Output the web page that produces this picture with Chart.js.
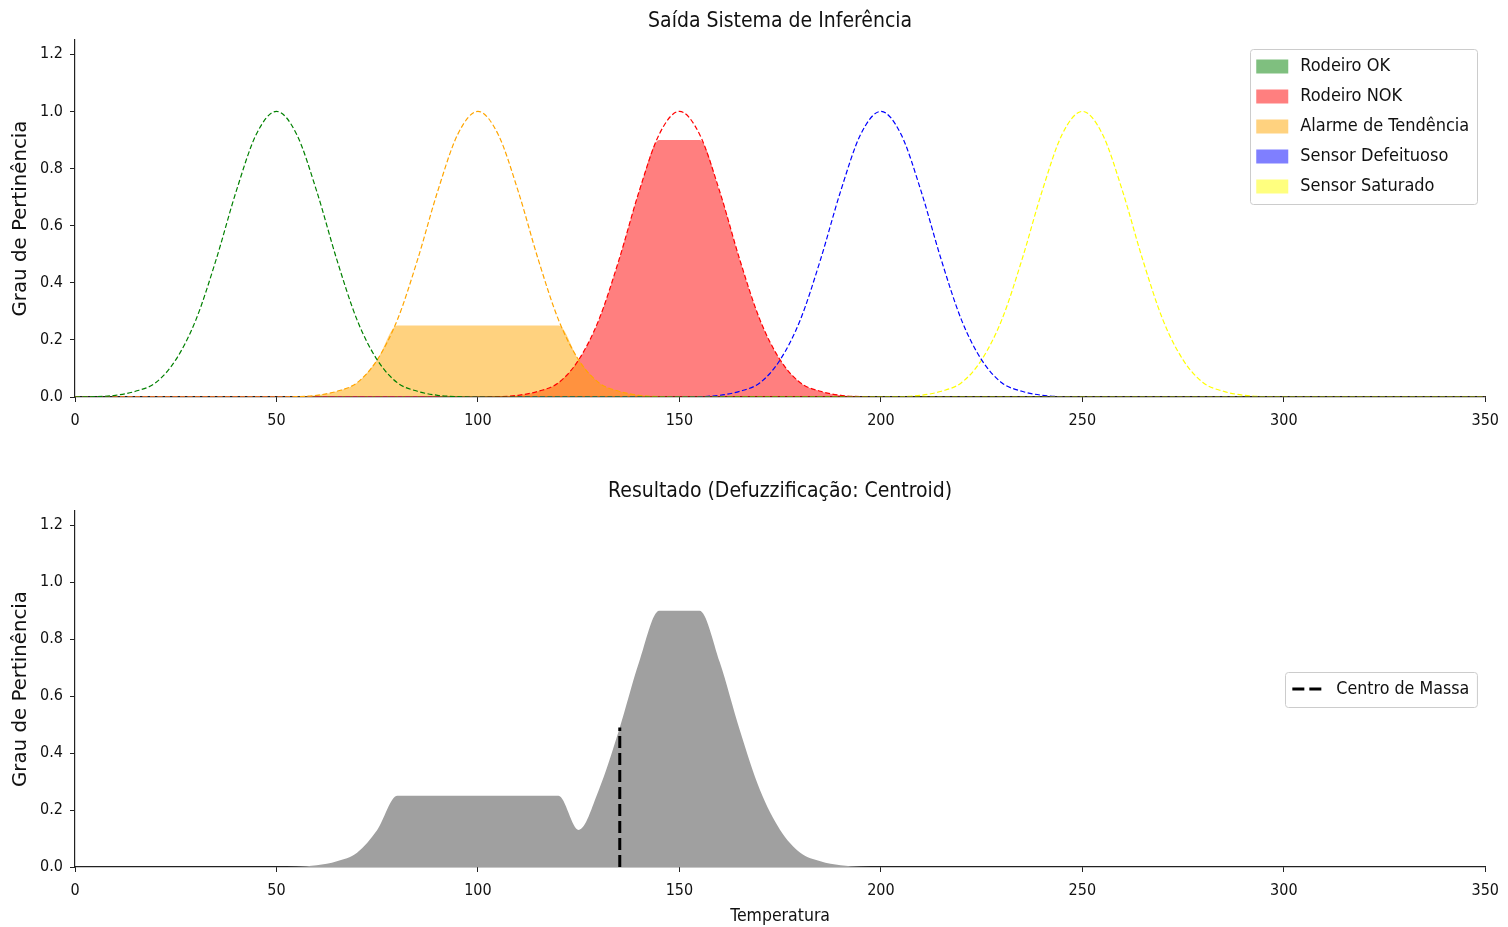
<!DOCTYPE html>
<html>
<head>
<meta charset="utf-8">
<script src="https://cdn.jsdelivr.net/npm/chart.js@4.4.0/dist/chart.umd.min.js"></script>
<style>
  html, body { margin: 0; padding: 0; background: #fff; }
  #wrap { position: relative; width: 1508px; height: 927px; }
  canvas { position: absolute; left: 0; }
  #topChart { top: 0; }
  #bottomChart { top: 460px; }
</style>
</head>
<body>
<div id="wrap">
  <canvas id="topChart" width="1508" height="450"></canvas>
  <canvas id="bottomChart" width="1508" height="467"></canvas>
</div>
<script>
// sample points along the temperature axis
const temperatura = [
  0, 5, 10, 15, 20, 25, 30, 35, 40, 45,
  50, 55, 60, 65, 70, 75, 80, 85, 90, 95,
  100, 105, 110, 115, 120, 125, 130, 135, 140, 145,
  150, 155, 160, 165, 170, 175, 180, 185, 190, 195,
  200, 205, 210, 215, 220, 225, 230, 235, 240, 245,
  250, 255, 260, 265, 270, 275, 280, 285, 290, 295,
  300, 305, 310, 315, 320, 325, 330, 335, 340, 345,
  350
];
const xTicks = [0, 50, 100, 150, 200, 250, 300, 350];
const yTicks = [0, 0.2, 0.4, 0.6, 0.8, 1.0, 1.2];

// membership functions (dashed curves)
const mfOk = [
  0, 0.001, 0.006, 0.02, 0.05, 0.13, 0.27, 0.48, 0.72, 0.92,
  1, 0.92, 0.72, 0.48, 0.27, 0.13, 0.05, 0.02, 0.006, 0.001,
  0, 0, 0, 0, 0, 0, 0, 0, 0, 0,
  0, 0, 0, 0, 0, 0, 0, 0, 0, 0,
  0, 0, 0, 0, 0, 0, 0, 0, 0, 0,
  0, 0, 0, 0, 0, 0, 0, 0, 0, 0,
  0, 0, 0, 0, 0, 0, 0, 0, 0, 0,
  0
];
const mfAlarme = [
  0, 0, 0, 0, 0, 0, 0, 0, 0, 0,
  0, 0.001, 0.006, 0.02, 0.05, 0.13, 0.27, 0.48, 0.72, 0.92,
  1, 0.92, 0.72, 0.48, 0.27, 0.13, 0.05, 0.02, 0.006, 0.001,
  0, 0, 0, 0, 0, 0, 0, 0, 0, 0,
  0, 0, 0, 0, 0, 0, 0, 0, 0, 0,
  0, 0, 0, 0, 0, 0, 0, 0, 0, 0,
  0, 0, 0, 0, 0, 0, 0, 0, 0, 0,
  0
];
const mfNok = [
  0, 0, 0, 0, 0, 0, 0, 0, 0, 0,
  0, 0, 0, 0, 0, 0, 0, 0, 0, 0,
  0, 0.001, 0.006, 0.02, 0.05, 0.13, 0.27, 0.48, 0.72, 0.92,
  1, 0.92, 0.72, 0.48, 0.27, 0.13, 0.05, 0.02, 0.006, 0.001,
  0, 0, 0, 0, 0, 0, 0, 0, 0, 0,
  0, 0, 0, 0, 0, 0, 0, 0, 0, 0,
  0, 0, 0, 0, 0, 0, 0, 0, 0, 0,
  0
];
const mfDefeituoso = [
  0, 0, 0, 0, 0, 0, 0, 0, 0, 0,
  0, 0, 0, 0, 0, 0, 0, 0, 0, 0,
  0, 0, 0, 0, 0, 0, 0, 0, 0, 0,
  0, 0.001, 0.006, 0.02, 0.05, 0.13, 0.27, 0.48, 0.72, 0.92,
  1, 0.92, 0.72, 0.48, 0.27, 0.13, 0.05, 0.02, 0.006, 0.001,
  0, 0, 0, 0, 0, 0, 0, 0, 0, 0,
  0, 0, 0, 0, 0, 0, 0, 0, 0, 0,
  0
];
const mfSaturado = [
  0, 0, 0, 0, 0, 0, 0, 0, 0, 0,
  0, 0, 0, 0, 0, 0, 0, 0, 0, 0,
  0, 0, 0, 0, 0, 0, 0, 0, 0, 0,
  0, 0, 0, 0, 0, 0, 0, 0, 0, 0,
  0, 0.001, 0.006, 0.02, 0.05, 0.13, 0.27, 0.48, 0.72, 0.92,
  1, 0.92, 0.72, 0.48, 0.27, 0.13, 0.05, 0.02, 0.006, 0.001,
  0, 0, 0, 0, 0, 0, 0, 0, 0, 0,
  0
];

// activated (clipped) outputs, filled areas
const actOk = [];          // activation 0
const actNok = [
  0, 0, 0, 0, 0, 0, 0, 0, 0, 0,
  0, 0, 0, 0, 0, 0, 0, 0, 0, 0,
  0, 0.001, 0.006, 0.02, 0.05, 0.13, 0.27, 0.48, 0.72, 0.9,
  0.9, 0.9, 0.72, 0.48, 0.27, 0.13, 0.05, 0.02, 0.006, 0.001,
  0, 0, 0, 0, 0, 0, 0, 0, 0, 0,
  0, 0, 0, 0, 0, 0, 0, 0, 0, 0,
  0, 0, 0, 0, 0, 0, 0, 0, 0, 0,
  0
];
const actAlarme = [
  0, 0, 0, 0, 0, 0, 0, 0, 0, 0,
  0, 0.001, 0.006, 0.02, 0.05, 0.13, 0.25, 0.25, 0.25, 0.25,
  0.25, 0.25, 0.25, 0.25, 0.25, 0.13, 0.05, 0.02, 0.006, 0.001,
  0, 0, 0, 0, 0, 0, 0, 0, 0, 0,
  0, 0, 0, 0, 0, 0, 0, 0, 0, 0,
  0, 0, 0, 0, 0, 0, 0, 0, 0, 0,
  0, 0, 0, 0, 0, 0, 0, 0, 0, 0,
  0
];
const actDefeituoso = [];  // activation 0
const actSaturado = [];    // activation 0

// aggregated output
const agregado = [
  0, 0, 0, 0, 0, 0, 0, 0, 0, 0,
  0, 0.001, 0.006, 0.02, 0.05, 0.13, 0.25, 0.25, 0.25, 0.25,
  0.25, 0.25, 0.25, 0.25, 0.25, 0.13, 0.27, 0.48, 0.72, 0.9,
  0.9, 0.9, 0.72, 0.48, 0.27, 0.13, 0.05, 0.02, 0.006, 0.001,
  0, 0, 0, 0, 0, 0, 0, 0, 0, 0,
  0, 0, 0, 0, 0, 0, 0, 0, 0, 0,
  0, 0, 0, 0, 0, 0, 0, 0, 0, 0,
  0
];
const centroide = [135.2];
const centroideAltura = [0.49];

const colorText = '#111111';
const colorAxis = '#222222';
const condensed = "'DejaVu Sans Condensed', 'DejaVu Sans', sans-serif";
const regular = "'DejaVu Sans', sans-serif";

const pts = ys => ys.map((y, i) => ({ x: temperatura[i], y: y }));

// matplotlib-like legend box in the upper/centre right of the plot area
const boxLegend = {
  id: 'boxLegend',
  afterDraw(chart, args, opts) {
    const items = chart.data.datasets.filter(d => d.legendShape);
    if (!items.length) return;
    const ctx = chart.ctx;
    const area = chart.chartArea;
    const rowH = 30;
    ctx.save();
    ctx.font = opts.fontSize + 'px ' + condensed;
    const textW = Math.max(...items.map(d => ctx.measureText(d.label).width));
    const w = opts.textX + textW + 8;
    const h = items.length * rowH + 5;
    const x = area.right - 8 - w;
    const y = opts.middle ? (area.top + area.bottom) / 2 - h / 2 : area.top + 9;
    ctx.fillStyle = 'rgba(255,255,255,0.8)';
    ctx.strokeStyle = '#cccccc';
    ctx.lineWidth = 1;
    ctx.beginPath();
    ctx.roundRect(Math.round(x) + 0.5, Math.round(y) + 0.5, w, h, 3);
    ctx.fill();
    ctx.stroke();
    items.forEach((d, i) => {
      const cy = y + 2.5 + rowH * (i + 0.5);
      if (d.legendShape === 'patch') {
        ctx.fillStyle = d.backgroundColor;
        ctx.fillRect(x + 6, cy - 7, 32, 14);
      } else {
        ctx.strokeStyle = d.borderColor;
        ctx.lineWidth = 3;
        ctx.setLineDash([12, 5]);
        ctx.beginPath();
        ctx.moveTo(x + 7, cy);
        ctx.lineTo(x + 37, cy);
        ctx.stroke();
        ctx.setLineDash([]);
      }
      ctx.fillStyle = colorText;
      ctx.textBaseline = 'middle';
      ctx.textAlign = 'left';
      ctx.fillText(d.label, x + opts.textX, cy);
    });
    ctx.restore();
  }
};

function axes(xTitle, xHeight) {
  return {
    x: {
      type: 'linear', min: 0, max: 350,
      afterBuildTicks: s => { s.ticks = xTicks.map(v => ({ value: v })); },
      afterFit: s => { s.height = xHeight; },
      grid: { drawOnChartArea: false, drawTicks: true, tickLength: 5, tickColor: colorAxis },
      border: { display: true, color: colorAxis, width: 1.2 },
      ticks: { color: colorText, padding: 9, maxRotation: 0, font: { family: condensed, size: 16 } },
      title: {
        display: !!xTitle, text: xTitle || '', color: colorText,
        padding: { top: 0, bottom: 0.5 }, font: { family: condensed, size: 17.5 }
      }
    },
    y: {
      min: 0, max: 1.25,
      afterBuildTicks: s => { s.ticks = yTicks.map(v => ({ value: v })); },
      afterFit: s => { s.width = 75; },
      grid: { drawOnChartArea: false, drawTicks: true, tickLength: 5, tickColor: colorAxis },
      border: { display: true, color: colorAxis, width: 1.2 },
      ticks: {
        color: colorText, padding: 7, font: { family: condensed, size: 16 },
        callback: v => v.toFixed(1)
      },
      title: {
        display: true, text: 'Grau de Pertinência', color: colorText,
        padding: { top: 9, bottom: 0 }, font: { family: regular, size: 19.8 }
      }
    }
  };
}

function fillSet(label, ys, color, order) {
  return {
    label: label, data: pts(ys), legendShape: 'patch',
    backgroundColor: color, borderWidth: 0, fill: 'origin',
    pointRadius: 0, cubicInterpolationMode: 'monotone', order: order
  };
}
function curveSet(label, ys, color) {
  return {
    label: label, data: pts(ys), borderColor: color, borderWidth: 1.2,
    borderDash: [5, 2.5], fill: false, pointRadius: 0,
    cubicInterpolationMode: 'monotone', order: 0
  };
}

new Chart(document.getElementById('topChart'), {
  type: 'line',
  data: {
    datasets: [
      fillSet('Rodeiro OK', actOk, 'rgba(0,128,0,0.5)', 3),
      fillSet('Rodeiro NOK', actNok, 'rgba(255,0,0,0.5)', 2),
      fillSet('Alarme de Tendência', actAlarme, 'rgba(255,165,0,0.5)', 1),
      fillSet('Sensor Defeituoso', actDefeituoso, 'rgba(0,0,255,0.5)', 3),
      fillSet('Sensor Saturado', actSaturado, 'rgba(255,255,0,0.5)', 3),
      curveSet('mf ok', mfOk, '#008000'),
      curveSet('mf alarme', mfAlarme, '#ffa500'),
      curveSet('mf nok', mfNok, '#ff0000'),
      curveSet('mf defeituoso', mfDefeituoso, '#0000ff'),
      curveSet('mf saturado', mfSaturado, '#ffff00')
    ]
  },
  options: {
    responsive: false,
    animation: false,
    layout: { padding: { left: 0, right: 22, top: 0, bottom: 0 } },
    plugins: {
      legend: { display: false },
      tooltip: { enabled: false },
      title: {
        display: true, fullSize: false, text: 'Saída Sistema de Inferência', color: colorText,
        font: { family: condensed, size: 21, weight: 'normal' },
        padding: { top: 9.4, bottom: 5.4 }
      },
      boxLegend: { middle: false, fontSize: 18, textX: 50 }
    },
    scales: axes(null, 53)
  },
  plugins: [boxLegend]
});

new Chart(document.getElementById('bottomChart'), {
  type: 'line',
  data: {
    datasets: [
      {
        label: 'Centro de Massa', legendShape: 'line',
        data: [{ x: centroide[0], y: 0 }, { x: centroide[0], y: centroideAltura[0] }],
        borderColor: '#000000', borderWidth: 3, borderDash: [12, 5],
        pointRadius: 0, fill: false, order: 0
      },
      {
        label: 'agregado', data: pts(agregado),
        backgroundColor: '#a0a0a0', borderWidth: 0, fill: 'origin',
        pointRadius: 0, cubicInterpolationMode: 'monotone', order: 1
      }
    ]
  },
  options: {
    responsive: false,
    animation: false,
    layout: { padding: { left: 0, right: 22, top: 0, bottom: 0 } },
    plugins: {
      legend: { display: false },
      tooltip: { enabled: false },
      title: {
        display: true, fullSize: false, text: 'Resultado (Defuzzificação: Centroid)', color: colorText,
        font: { family: condensed, size: 21, weight: 'normal' },
        padding: { top: 19.4, bottom: 6.4 }
      },
      boxLegend: { middle: true, fontSize: 17.7, textX: 51 }
    },
    scales: axes('Temperatura', 60)
  },
  plugins: [boxLegend]
});
</script>
</body>
</html>
